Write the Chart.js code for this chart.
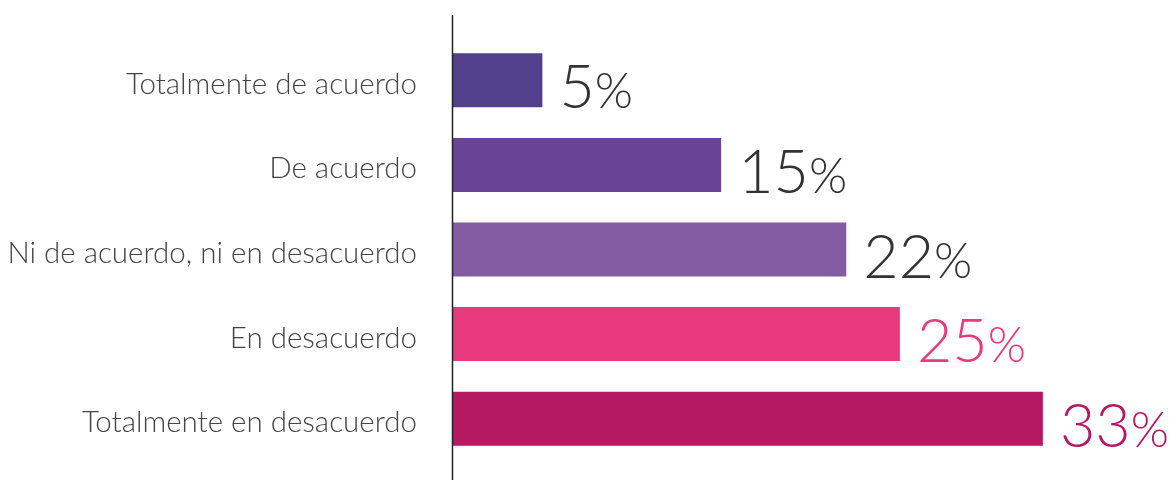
<!DOCTYPE html>
<html>
<head>
<meta charset="utf-8">
<script src="https://cdn.jsdelivr.net/npm/chart.js@4.4.1/dist/chart.umd.min.js"></script>
<style>
  html, body { margin: 0; padding: 0; background: #ffffff; }
  #wrap { width: 1175px; height: 480px; position: relative; }
</style>
</head>
<body>
<div id="wrap"><canvas id="c"></canvas></div>
<script>
const categories = [
  "Totalmente de acuerdo",
  "De acuerdo",
  "Ni de acuerdo, ni en desacuerdo",
  "En desacuerdo",
  "Totalmente en desacuerdo"
];
const values = [5, 15, 22, 25, 33];
const barColors = ["#52408C", "#694494", "#845CA3", "#E8397C", "#B51962"];
const valueLabelColors = ["#333333", "#333333", "#333333", "#E8397C", "#B51962"];

const FONT = "Lato, 'Open Sans', sans-serif";

const valueLabelPlugin = {
  id: "valueLabels",
  afterDatasetsDraw(chart) {
    const ctx = chart.ctx;
    const meta = chart.getDatasetMeta(0);
    ctx.save();
    ctx.textBaseline = "alphabetic";
    ctx.textAlign = "left";
    meta.data.forEach((bar, i) => {
      const num = String(values[i]);
      const x = bar.x + 17;
      const y = bar.y + 28;
      ctx.fillStyle = valueLabelColors[i];
      ctx.font = "300 61px " + FONT;
      ctx.fillText(num, x, y);
      const w = ctx.measureText(num).width;
      ctx.font = "300 49px " + FONT;
      ctx.fillText("%", x + w, y);
    });
    ctx.restore();
  }
};

const axisLinePlugin = {
  id: "axisLine",
  afterDraw(chart) {
    const ctx = chart.ctx;
    const a = chart.chartArea;
    ctx.save();
    ctx.strokeStyle = "#222222";
    ctx.lineWidth = 1.5;
    ctx.beginPath();
    ctx.moveTo(a.left - 0.5, 15);
    ctx.lineTo(a.left - 0.5, 480);
    ctx.stroke();
    ctx.restore();
  }
};

new Chart(document.getElementById("c"), {
  type: "bar",
  data: {
    labels: categories,
    datasets: [{
      data: values,
      backgroundColor: barColors,
      borderWidth: 0,
      barPercentage: 1,
      categoryPercentage: 0.638
    }]
  },
  options: {
    indexAxis: "y",
    responsive: true,
    maintainAspectRatio: false,
    animation: false,
    layout: { padding: { top: 38, bottom: 19, left: 0, right: 7 } },
    plugins: {
      legend: { display: false },
      tooltip: { enabled: false }
    },
    scales: {
      x: {
        display: false,
        min: 0,
        max: 40
      },
      y: {
        afterFit(scale) {
          scale.width = 453;
          scale.paddingTop = 0;
          scale.paddingBottom = 0;
        },
        grid: { display: false, drawTicks: false },
        border: { display: false },
        ticks: {
          padding: 36,
          labelOffset: 4,
          color: "#444444",
          font: { family: FONT, size: 29.5, weight: "300" }
        }
      }
    }
  },
  plugins: [valueLabelPlugin, axisLinePlugin]
});
</script>
</body>
</html>
